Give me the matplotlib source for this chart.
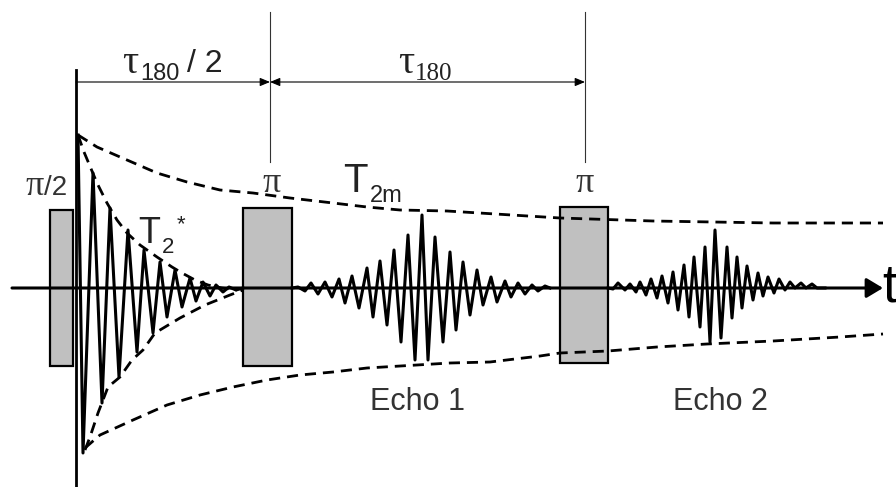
import numpy as np
import matplotlib
matplotlib.use('Agg')
import matplotlib.pyplot as plt

plt.rcParams['font.family'] = ['Liberation Sans', 'DejaVu Sans']

# 时间轴单位: 任意 (t=0 为 pi/2 脉冲后), 幅度向上为正
# 脉冲 (pi/2, pi, pi)
pulse_t0 = [-26, 167, 484]
pulse_t1 = [-3, 216, 532]
pulse_top = [78, 80, 81]
pulse_bot = [-78, -78, -75]

# FID 信号的极值点
fid_t = [2, 7, 17, 26, 34, 43, 52, 61, 68, 77, 84, 91, 99, 106, 114, 120,
         127, 134, 140, 147, 153, 160, 167]
fid_a = [153, -165, 115, -115, 80, -89, 58, -64, 38, -45, 26, -29, 18, -19,
         10, -13, 6, -8, 3, -4, 1, -2, 0]

# 回波 1
echo1_t = [216, 222, 229, 235, 242, 249, 256, 263, 269, 276, 283, 291, 297,
           304, 311, 318, 325, 332, 339, 346, 352, 359, 367, 374, 380, 387,
           394, 401, 407, 415, 421, 429, 435, 442, 449, 456, 462, 469, 474]
echo1_a = [0, 1, -3, 5, -6, 6, -9, 9, -15, 12, -20, 20, -29, 27, -37, 38,
           -54, 53, -72, 73, -72, 51, -54, 36, -42, 26, -27, 18, -17, 11,
           -14, 7, -9, 5, -6, 3, -3, 2, 0]

# 回波 2
echo2_t = [532, 537, 542, 549, 554, 560, 564, 570, 575, 581, 586, 592, 597,
           602, 608, 613, 618, 624, 629, 634, 639, 645, 651, 656, 661, 666,
           671, 677, 682, 687, 692, 698, 703, 709, 714, 719, 725, 730, 736,
           741, 749]
echo2_a = [0, -1, 5, -2, 4, -4, 6, -7, 9, -10, 12, -15, 16, -22, 23, -29,
           31, -39, 41, -54, 58, -50, 41, -30, 31, -20, 22, -12, 15, -8, 11,
           -5, 9, -2, 6, 0, 5, 0, 4, 0, 0]

# 包络线 T2m (上/下)
t2m_up_t = [2, 21, 51, 81, 111, 144, 177, 214, 257, 291, 324, 371, 484, 577, 697, 807]
t2m_up_a = [153, 141, 128, 115, 106, 98, 95, 90, 85, 81, 78, 77, 70, 67, 65, 65]
t2m_lo_t = [9, 24, 57, 91, 124, 157, 191, 224, 257, 291, 341, 374, 414, 464,
            484, 532, 581, 631, 697, 764, 807]
t2m_lo_a = [-160, -147, -132, -117, -107, -99, -92, -87, -84, -80, -77, -75,
            -74, -68, -65, -63, -59, -56, -53, -49, -46]

# 包络线 T2*
t2s_up_t = [2, 8, 21, 31, 41, 51, 64, 81, 96, 106, 119, 132, 146, 161]
t2s_up_a = [153, 136, 105, 85, 68, 55, 43, 31, 21, 15, 8, 3, 0, -2]
t2s_lo_t = [9, 14, 22, 32, 44, 56, 67, 79, 104, 129, 154, 167]
t2s_lo_a = [-162, -149, -125, -99, -89, -72, -62, -45, -30, -17, -7, -2]

tau_half = 194   # pi 脉冲位置
tau_end = 509    # 第二个 pi 脉冲

fig = plt.figure(figsize=(8.96, 4.87), dpi=100)
ax = fig.add_axes([0, 0, 1, 1])
ax.set_xlim(-76, 820)
ax.set_ylim(-199, 288)
ax.axis('off')

# 脉冲方块
for t0, t1, top, bot in zip(pulse_t0, pulse_t1, pulse_top, pulse_bot):
    ax.bar(t0, top - bot, width=t1 - t0, bottom=bot, align='edge',
           color='#c0c0c0', edgecolor='black', linewidth=1.6, zorder=1)

# 时间轴
ax.annotate('', xy=(807, 0), xytext=(-64, 0),
            arrowprops=dict(arrowstyle='-|>,head_length=0.5,head_width=0.3',
                            mutation_scale=20, lw=2.2, color='black',
                            shrinkA=0, shrinkB=0), zorder=2)
ax.text(806, -14, 't', fontsize=38, ha='left', va='baseline', color='black')

# 纵轴
ax.plot([0, 0], [218, -199], color='black', lw=2.0, zorder=2)

# 信号
ax.plot(fid_t, fid_a, color='black', lw=2.2, zorder=4)
ax.plot(echo1_t, echo1_a, color='black', lw=2.2, zorder=4)
ax.plot(echo2_t, echo2_a, color='black', lw=2.2, zorder=4)

# 包络
for xs, ys in [(t2m_up_t, t2m_up_a), (t2m_lo_t, t2m_lo_a),
               (t2s_up_t, t2s_up_a), (t2s_lo_t, t2s_lo_a)]:
    ax.plot(xs, ys, color='black', lw=2.0, ls=(0, (4, 2.5)), zorder=3)

# 时间间隔标注
ax.plot([tau_half, tau_half], [276, 126], color='#333333', lw=0.8)
ax.plot([tau_end, tau_end], [276, 126], color='#333333', lw=0.8)
ax.annotate('', xy=(tau_half, 206), xytext=(0, 206),
            arrowprops=dict(arrowstyle='-|>,head_length=0.6,head_width=0.25',
                            mutation_scale=10, lw=0.8, color='black',
                            shrinkA=0, shrinkB=0))
ax.annotate('', xy=(tau_end, 206), xytext=(tau_half, 206),
            arrowprops=dict(arrowstyle='<|-|>,head_length=0.6,head_width=0.25',
                            mutation_scale=10, lw=0.8, color='black',
                            shrinkA=0, shrinkB=0))

txt = '#222222'
ax.text(46, 215, 'τ', fontsize=29, family='Liberation Serif', color=txt, va='baseline')
ax.text(64, 208, '180', fontsize=17, color=txt, va='baseline')
ax.text(111, 216, '/ 2', fontsize=23, color=txt, va='baseline')
ax.text(322, 215, 'τ', fontsize=29, family='Liberation Serif', color=txt, va='baseline')
ax.text(339, 208, '180', fontsize=18, family='Liberation Serif', color=txt, va='baseline')

# 脉冲标签
ax.text(-51, 93, 'π', fontsize=26, family='Liberation Serif', color='#333333', va='baseline')
ax.text(-32, 93, '/2', fontsize=20, color='#333333', va='baseline')
ax.text(tau_half + 2, 96, 'π', fontsize=26, family='Liberation Serif', color='#333333',
        va='baseline', ha='center')
ax.text(tau_end, 96, 'π', fontsize=26, family='Liberation Serif', color='#333333',
        va='baseline', ha='center')

# T2m, T2*
ax.text(267, 96, 'T', fontsize=29, color=txt, va='baseline')
ax.text(294, 86, '2m', fontsize=17, color=txt, va='baseline')
ax.text(62, 45, 'T', fontsize=26, color=txt, va='baseline')
ax.text(86, 35, '2', fontsize=16, color=txt, va='baseline')
ax.text(101, 58, '*', fontsize=16, color=txt, va='baseline')

ax.text(341, -122, 'Echo 1', fontsize=22, color='#333333', ha='center', va='baseline')
ax.text(644, -122, 'Echo 2', fontsize=22, color='#333333', ha='center', va='baseline')

fig.savefig('out.png', dpi=100)
